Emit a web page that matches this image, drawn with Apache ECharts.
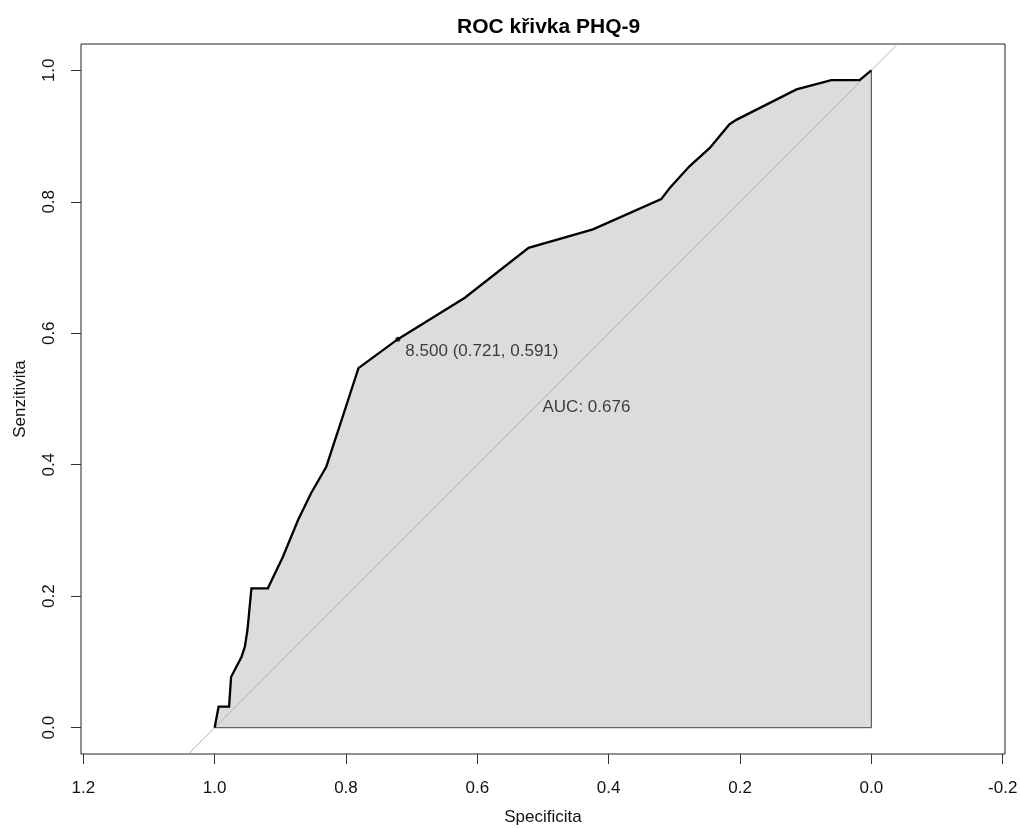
<!DOCTYPE html>
<html>
<head>
<meta charset="utf-8">
<script src="https://cdn.jsdelivr.net/npm/echarts@6/dist/echarts.min.js"></script>
<style>html,body{margin:0;padding:0;background:#fff;}#c{width:1020px;height:828px;}</style>
</head>
<body>
<div id="c"></div>
<script>
// ---- data ----
const specificity = [1.000, 0.994, 0.978, 0.975, 0.959, 0.954, 0.950, 0.944, 0.919, 0.896, 0.873, 0.853, 0.830, 0.810, 0.781, 0.721, 0.619, 0.522, 0.424, 0.320, 0.307, 0.277, 0.246, 0.216, 0.205, 0.114, 0.061, 0.018, 0.000];
const sensitivity = [0.000, 0.032, 0.032, 0.077, 0.108, 0.123, 0.149, 0.212, 0.212, 0.260, 0.316, 0.357, 0.397, 0.458, 0.547, 0.591, 0.654, 0.730, 0.758, 0.804, 0.821, 0.854, 0.882, 0.918, 0.925, 0.971, 0.985, 0.985, 1.000];
const bestThreshold = 8.5;
const bestSpec = 0.721;
const bestSens = 0.591;
const aucValue = 0.676;
const xTicks = [1.2, 1.0, 0.8, 0.6, 0.4, 0.2, 0.0, -0.2];
const yTicks = [0.0, 0.2, 0.4, 0.6, 0.8, 1.0];
const titleText = 'ROC křivka PHQ-9';
const xName = 'Specificita';
const yName = 'Senzitivita';

// axis extents (R extends the data range)
const XMIN = -0.2035, XMAX = 1.2035, YMIN = -0.04, YMAX = 1.04;

const rocData = specificity.map((s, i) => [s, sensitivity[i]]);
const borderData = [[1, 0], [0, 0], [0, 1]];
const diagData = [[XMAX, 1 - XMAX], [XMIN, 1 - XMIN]];

const FONT = '"Liberation Sans", Arial, sans-serif';
const chart = echarts.init(document.getElementById('c'), null, {renderer: 'canvas'});
chart.setOption({
  animation: false,
  backgroundColor: '#ffffff',
  title: {
    text: titleText,
    left: 452,
    top: 12,
    textStyle: {fontFamily: FONT, fontSize: 21, fontWeight: 'bold', color: '#000'}
  },
  grid: {
    left: 81, right: 15, top: 44, bottom: 74,
    containLabel: false, outerBoundsMode: 'none',
    show: true, borderColor: '#222', borderWidth: 1, backgroundColor: 'transparent'
  },
  xAxis: {
    type: 'value', inverse: true, min: XMIN, max: XMAX,
    name: xName, nameLocation: 'middle', nameGap: 55,
    nameTextStyle: {fontFamily: FONT, fontSize: 17, color: '#111'},
    axisLine: {show: false, onZero: false},
    splitLine: {show: false},
    axisTick: {show: true, customValues: xTicks, length: 10, lineStyle: {color: '#333'}},
    axisLabel: {customValues: xTicks, formatter: v => v.toFixed(1), margin: 26,
      fontFamily: FONT, fontSize: 17, color: '#111'}
  },
  yAxis: {
    type: 'value', min: YMIN, max: YMAX,
    name: yName, nameLocation: 'middle', nameGap: 52, nameRotate: 90,
    nameTextStyle: {fontFamily: FONT, fontSize: 17, color: '#111'},
    axisLine: {show: false, onZero: false},
    splitLine: {show: false},
    axisTick: {show: true, customValues: yTicks, length: 10, lineStyle: {color: '#333'}},
    axisLabel: {customValues: yTicks, formatter: v => v.toFixed(1), margin: 23, rotate: 90,
      fontFamily: FONT, fontSize: 17, color: '#111'}
  },
  series: [
    {
      name: 'fill', type: 'line', data: rocData, showSymbol: false, silent: true,
      lineStyle: {width: 0}, areaStyle: {color: '#DCDCDC', opacity: 1, origin: 0}, z: 1
    },
    {
      name: 'border', type: 'line', data: borderData, showSymbol: false, silent: true,
      lineStyle: {width: 1, color: '#444'}, z: 2
    },
    {
      name: 'diagonal', type: 'line', data: diagData, showSymbol: false, silent: true,
      clip: true, lineStyle: {width: 1, color: '#b0b0b0'}, z: 3
    },
    {
      name: 'roc', type: 'line', data: rocData, showSymbol: false, silent: true,
      lineStyle: {width: 2.3, color: '#000', join: 'miter'}, z: 4
    },
    {
      name: 'threshold', type: 'scatter', data: [[bestSpec, bestSens]], symbolSize: 5,
      itemStyle: {color: '#000'}, silent: true, z: 5,
      label: {show: true, position: 'right', distance: 5, offset: [0, 12],
        formatter: bestThreshold.toFixed(3) + ' (' + bestSpec.toFixed(3) + ', ' + bestSens.toFixed(3) + ')',
        fontFamily: FONT, fontSize: 17, color: '#111'}
    },
    {
      name: 'auc', type: 'scatter', data: [[0.5, 0.5]], symbolSize: 1,
      itemStyle: {color: 'transparent'}, silent: true, z: 5,
      label: {show: true, position: [0, 0], align: 'left', verticalAlign: 'top',
        formatter: 'AUC: ' + aucValue.toFixed(3),
        fontFamily: FONT, fontSize: 17, color: '#111'}
    }
  ]
});
</script>
</body>
</html>
